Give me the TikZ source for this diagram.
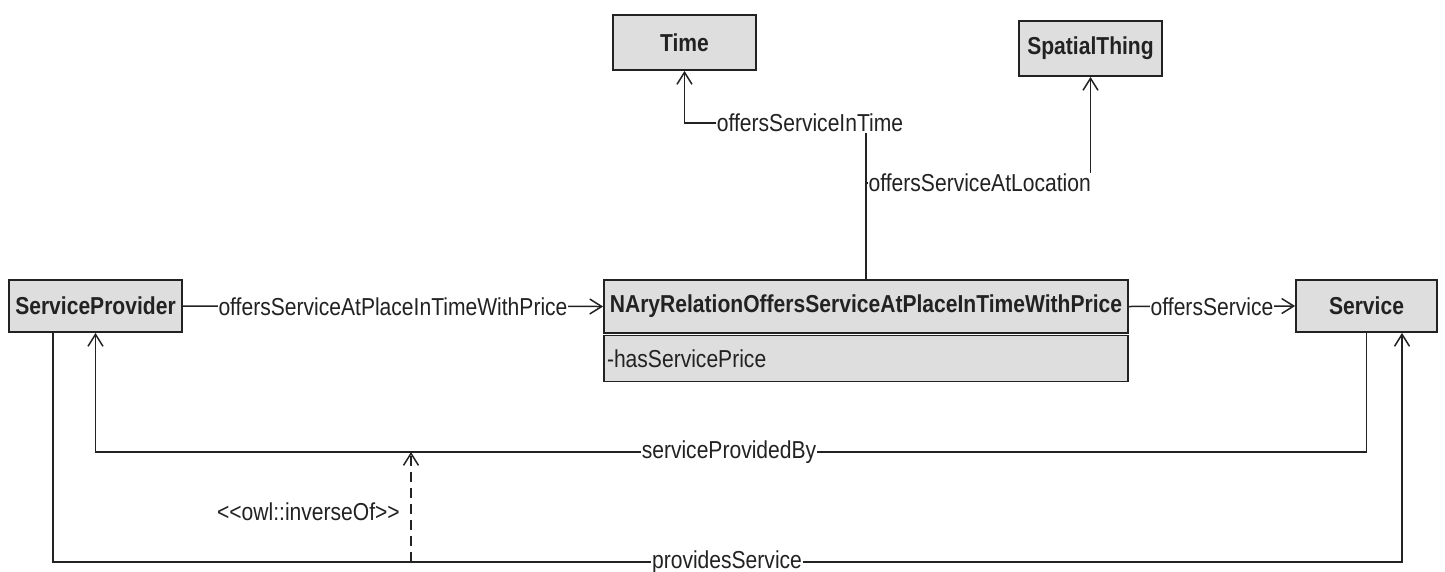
\documentclass[tikz,border=0pt]{standalone}
\usepackage{fontspec}
\setmainfont{Liberation Sans}[FakeStretch=0.86]
\usetikzlibrary{arrows.meta}
\definecolor{boxfill}{RGB}{222,222,222}
\definecolor{ink}{RGB}{34,34,34}
\newcommand{\umlfont}{\fontsize{24.5}{28}\selectfont}
\tikzset{
  cls/.style={draw=ink, line width=1.8pt, fill=boxfill, inner sep=0pt,
    font=\umlfont\bfseries, text=ink},
  attr/.style={draw=ink, line width=1.8pt, fill=boxfill, inner sep=3pt,
    font=\umlfont, text=ink, align=left},
  assoc/.style={draw=ink, line width=1.5pt,
    -{Straight Barb[length=12pt,width=15pt,line width=1.5pt]}},
  inverse/.style={draw=ink, line width=1.5pt, dash pattern=on 10pt off 6pt,
    -{Straight Barb[length=12pt,width=15pt,line width=1.5pt]}},
  lbl/.style={fill=white, inner sep=1pt, font=\umlfont, text=ink},
}
\begin{document}
\begin{tikzpicture}[x=1pt,y=-1pt]
\useasboundingbox (0,0) rectangle (1445,571);

% classes
\node[cls, minimum width=173pt, minimum height=52pt] (sp)   at (95.5,306)  {ServiceProvider};
\node[cls, minimum width=524pt, minimum height=53pt] (nary) at (866,306.5) {NAryRelationOffersServiceAtPlaceInTimeWithPrice};
\node[attr, minimum width=524pt, minimum height=46pt, text width=518pt, anchor=north] (narya) at (866,334.5) {-hasServicePrice};
\node[cls, minimum width=141pt, minimum height=52pt] (svc)  at (1366.5,306) {Service};
\node[cls, minimum width=143pt, minimum height=55pt] (time) at (684.5,42.5) {Time};
\node[cls, minimum width=143pt, minimum height=55pt] (spat) at (1090.5,48.5) {SpatialThing};

% n-ary relation links
\draw[assoc] (sp.east) -- (nary.west)
  node[lbl, midway] (l1) {offersServiceAtPlaceInTimeWithPrice};
\draw[assoc] (nary.east) -- (svc.west)
  node[lbl, midway] (l2) {offersService};
\draw[assoc] (nary.north) -- (nary.north |- 0,123) -| (time.south);
\node[lbl] (l3) at (810,123) {offersServiceInTime};
\draw[assoc] (nary.north) |- (spat.south |- 0,183) -- (spat.south);
\node[lbl, anchor=east] (l4) at (1092,183) {offersServiceAtLocation};

% inverse properties
\draw[assoc] (svc.south) -- (svc.south |- 0,452) -| (sp.south);
\node[lbl] (l5) at (729,452) {serviceProvidedBy};
\draw[assoc] ([xshift=-42.5pt]sp.south) |- ([xshift=35.5pt]svc.south |- 0,562)
  -- ([xshift=35.5pt]svc.south);
\node[lbl] (l6) at (727,562) {providesService};

\coordinate (invfrom) at (411,562);
\coordinate (invto) at (411,452);
\draw[inverse] (invfrom) -- (invto);
\node[lbl, anchor=east, fill=none] (l7) at (401,512)
  {<\kern0pt<owl::inverseOf>\kern0pt>};
\end{tikzpicture}
\end{document}
